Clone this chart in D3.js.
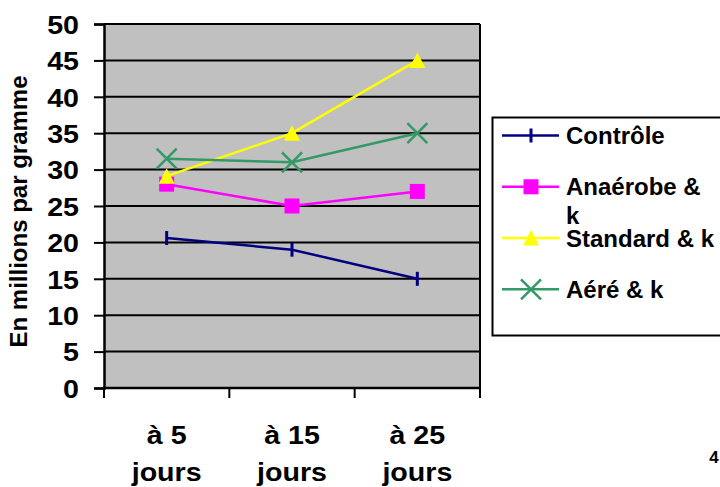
<!DOCTYPE html>
<html>
<head>
<meta charset="utf-8">
<script src="https://cdn.jsdelivr.net/npm/d3@7"></script>
<style>
  html, body { margin: 0; padding: 0; background: #fff; overflow: hidden; }
  svg { display: block; font-family: "Liberation Sans", Arial, sans-serif; font-weight: bold; }
</style>
</head>
<body>
<svg id="chart" width="720" height="487"></svg>
<script>
const categories = ["à 5 jours", "à 15 jours", "à 25 jours"];
const categoryLines = [["à 5", "jours"], ["à 15", "jours"], ["à 25", "jours"]];
const seriesNames = ["Contrôle", "Anaérobe & k", "Standard & k", "Aéré & k"];
const legendLines = [["Contrôle"], ["Anaérobe &", "k"], ["Standard & k"], ["Aéré & k"]];
const controle = [20.6, 19, 15];
const anaerobe = [28, 25, 27];
const standard = [29.1, 35, 45];
const aere = [31.5, 31, 35];
const yTicks = [0, 5, 10, 15, 20, 25, 30, 35, 40, 45, 50];
const colors = ["#000080", "#FF00FF", "#FFFF00", "#339966"];
const markers = ["bar", "square", "triangle", "x"];

const seriesValues = [controle, anaerobe, standard, aere];
const series = seriesNames.map((n, i) => ({ name: n, values: seriesValues[i], color: colors[i], marker: markers[i], legend: legendLines[i] }));

const svg = d3.select("#chart");
const plot = { left: 104, right: 480, top: 24, bottom: 388 };
const stretch = 1.1;

const x = d3.scaleBand().domain(categories).range([plot.left, plot.right]).padding(0);
const y = d3.scaleLinear().domain([0, 50]).range([plot.bottom, plot.top]);
const cx = c => x(c) + x.bandwidth() / 2;

// plot background
svg.append("rect")
  .attr("x", plot.left).attr("y", plot.top)
  .attr("width", plot.right - plot.left).attr("height", plot.bottom - plot.top)
  .attr("fill", "#C0C0C0");

// gridlines
svg.append("g").selectAll("line").data(yTicks).join("line")
  .attr("x1", plot.left).attr("x2", plot.right)
  .attr("y1", d => y(d)).attr("y2", d => y(d))
  .attr("stroke", "#000").attr("stroke-width", 2);

// right border
svg.append("line").attr("x1", plot.right).attr("x2", plot.right)
  .attr("y1", plot.top).attr("y2", plot.bottom)
  .attr("stroke", "#000").attr("stroke-width", 2);

// y axis
const yAxis = svg.append("g").attr("transform", `translate(${plot.left},0)`)
  .call(d3.axisLeft(y).tickValues(yTicks).tickSize(10).tickPadding(15).tickFormat(d3.format("d")));
yAxis.select(".domain").attr("stroke", "#000").attr("stroke-width", 2.5);
yAxis.selectAll(".tick line").attr("stroke", "#000").attr("stroke-width", 2);
yAxis.selectAll(".tick text").attr("font-size", 26).attr("font-weight", "bold")
  .attr("font-family", "Liberation Sans, Arial, sans-serif").attr("fill", "#000").attr("dy", "0.36em")
  .attr("x", -25 / stretch).attr("transform", `scale(${stretch},1)`);

// x axis
const bounds = categories.map(c => x(c)).concat([x(categories[categories.length - 1]) + x.bandwidth()]);
svg.append("line").attr("x1", plot.left - 1).attr("x2", plot.right + 1)
  .attr("y1", plot.bottom).attr("y2", plot.bottom)
  .attr("stroke", "#000").attr("stroke-width", 2.5);
svg.append("g").selectAll("line").data(bounds).join("line")
  .attr("x1", d => d).attr("x2", d => d)
  .attr("y1", plot.bottom).attr("y2", plot.bottom + 10)
  .attr("stroke", "#000").attr("stroke-width", 2);

const xl = svg.append("g").selectAll("g").data(categories).join("g")
  .attr("transform", d => `translate(${cx(d)},443.5) scale(${stretch},1)`);
xl.each(function(d, i) {
  const t = d3.select(this).append("text").attr("text-anchor", "middle").attr("font-size", 26).attr("fill", "#000");
  categoryLines[i].forEach((ln, j) => {
    t.append("tspan").attr("x", 0).attr("dy", j === 0 ? 0 : 37.5).text(ln);
  });
});

// y title
svg.append("text")
  .attr("transform", "translate(27,211.5) rotate(-90)")
  .attr("text-anchor", "middle").attr("font-size", 24).attr("fill", "#000")
  .text("En millions par gramme");

// markers
function drawMarker(g, type, color, px, py) {
  if (type === "bar") {
    g.append("line").attr("x1", px).attr("x2", px).attr("y1", py - 7).attr("y2", py + 7)
      .attr("stroke", color).attr("stroke-width", 3);
  } else if (type === "square") {
    g.append("rect").attr("x", px - 7.5).attr("y", py - 7.5).attr("width", 15).attr("height", 15).attr("fill", color);
  } else if (type === "triangle") {
    g.append("path").attr("d", `M${px},${py - 8}L${px + 8},${py + 7.5}L${px - 8},${py + 7.5}Z`).attr("fill", color);
  } else if (type === "x") {
    g.append("path").attr("d", `M${px - 10},${py - 10}L${px + 10},${py + 10}M${px - 10},${py + 10}L${px + 10},${py - 10}`)
      .attr("stroke", color).attr("stroke-width", 2.5).attr("fill", "none");
  }
}

const line = d3.line().x((d, i) => cx(categories[i])).y(d => y(d));
series.forEach(s => {
  const g = svg.append("g");
  g.append("path").attr("d", line(s.values)).attr("fill", "none")
    .attr("stroke", s.color).attr("stroke-width", 2.5);
  s.values.forEach((v, i) => drawMarker(g, s.marker, s.color, cx(categories[i]), y(v)));
});

// legend
svg.append("rect").attr("x", 492.5).attr("y", 117.5).attr("width", 300).attr("height", 218)
  .attr("fill", "#fff").attr("stroke", "#000").attr("stroke-width", 2);
const ly = d3.scalePoint().domain(seriesNames).range([135.5, 289.3]);
series.forEach(s => {
  const g = svg.append("g");
  const yy = ly(s.name);
  g.append("line").attr("x1", 502).attr("x2", 559).attr("y1", yy).attr("y2", yy)
    .attr("stroke", s.color).attr("stroke-width", 2.5);
  drawMarker(g, s.marker, s.color, 531, yy);
  const t = g.append("text").attr("x", 566).attr("y", yy + 8.5).attr("font-size", 24).attr("fill", "#000");
  s.legend.forEach((ln, j) => t.append("tspan").attr("x", 566).attr("dy", j === 0 ? 0 : 28.5).text(ln));
});

// page number
svg.append("text").attr("x", 714).attr("y", 462.5).attr("text-anchor", "middle")
  .attr("font-size", 17).attr("fill", "#000").text("4");
</script>
</body>
</html>
